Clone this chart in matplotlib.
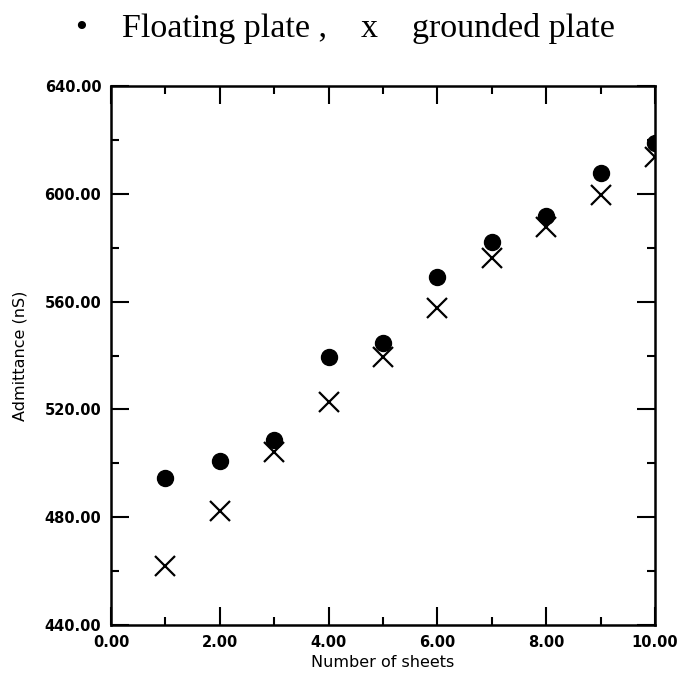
import matplotlib
matplotlib.use("Agg")
import matplotlib.pyplot as plt
from matplotlib.ticker import MultipleLocator, FormatStrFormatter

sheets = [1, 2, 3, 4, 5, 6, 7, 8, 9, 10]
floating = [494.7, 500.9, 508.6, 539.6, 544.8, 569.0, 582.2, 591.8, 607.6, 618.7]
grounded = [462.0, 482.4, 504.3, 522.9, 539.6, 557.5, 576.0, 587.8, 599.6, 613.8]

fig = plt.figure(figsize=(6.77, 6.76), dpi=100)
ax = fig.add_axes([0.164, 0.0754, 0.8035, 0.7974])

ax.plot(sheets, floating, linestyle="none", marker="o", markersize=11.5,
        color="black", zorder=3)
ax.plot(sheets, grounded, linestyle="none", marker="x", markersize=14,
        markeredgewidth=1.6, color="black", zorder=3)

ax.set_xlim(0, 10)
ax.set_ylim(440, 640)
ax.xaxis.set_major_locator(MultipleLocator(2))
ax.xaxis.set_minor_locator(MultipleLocator(1))
ax.yaxis.set_major_locator(MultipleLocator(40))
ax.yaxis.set_minor_locator(MultipleLocator(20))
ax.xaxis.set_major_formatter(FormatStrFormatter("%.2f"))
ax.yaxis.set_major_formatter(FormatStrFormatter("%.2f"))

ax.tick_params(which="both", direction="in", top=True, right=True,
               width=1.5, labelsize=10.5, colors="black")
ax.tick_params(which="major", length=13)
ax.tick_params(axis="y", which="major", pad=7)
ax.tick_params(axis="x", which="major", pad=7)
ax.tick_params(which="minor", length=6)
for lab in ax.get_xticklabels() + ax.get_yticklabels():
    lab.set_fontweight("semibold")
for s in ax.spines.values():
    s.set_linewidth(1.8)

ax.set_xlabel("Number of sheets", fontsize=11.5, labelpad=4)
ax.set_ylabel("Admittance (nS)", fontsize=11.5, labelpad=12)

fig.text(0.51, 0.958, "\u2022    Floating plate ,    x    grounded plate",
         ha="center", va="center", fontsize=24.5, family="Liberation Serif")

fig.savefig("out.png", dpi=100)
